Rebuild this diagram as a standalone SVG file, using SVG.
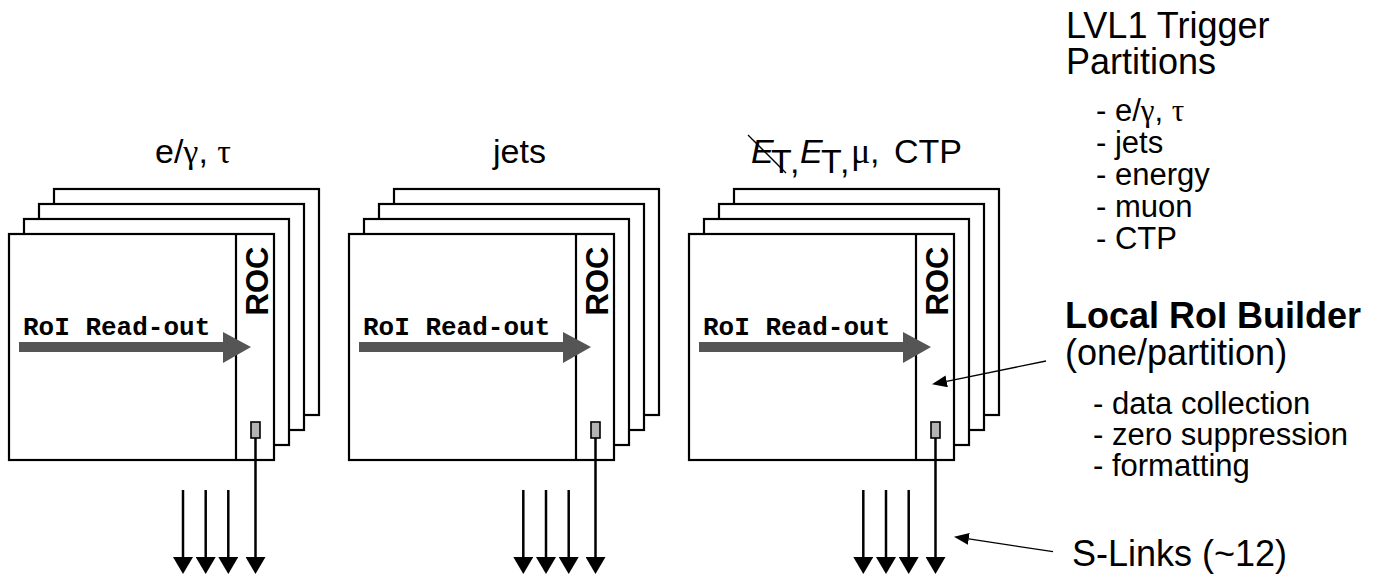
<svg xmlns="http://www.w3.org/2000/svg" width="1388" height="575" viewBox="0 0 1388 575">
<style>
.card{fill:#fff;stroke:#000;stroke-width:2.2}
.div{stroke:#000;stroke-width:2.2}
.roc{font-family:"Liberation Sans",Arial,sans-serif;font-weight:bold;font-size:31px;fill:#000}
.roi{font-family:"Liberation Mono","Courier New",monospace;font-weight:bold;font-size:26px;fill:#000}
.big{font-family:"Liberation Sans",Arial,sans-serif;font-size:34px;fill:#000}
.hd{font-family:"Liberation Sans",Arial,sans-serif;font-size:36px;fill:#000}
.lst{font-family:"Liberation Sans",Arial,sans-serif;font-size:31px;fill:#000}
.gr{font-family:"Liberation Serif","Times New Roman",serif}
.fat{fill:#555}
.chip{fill:#b4b4b4;stroke:#000;stroke-width:1.6}
.link{stroke:#000;stroke-width:2.5;fill:none}
.ptr{stroke:#000;stroke-width:1.3;fill:none}
</style>
<defs>
<marker id="down" markerUnits="userSpaceOnUse" markerWidth="17" markerHeight="20" viewBox="0 0 17 20" refX="0" refY="10" orient="auto">
<path d="M0,0 L17,10 L0,20 z" fill="#000"/>
</marker>
<marker id="small" markerUnits="userSpaceOnUse" markerWidth="15" markerHeight="12" viewBox="0 0 15 12" refX="0" refY="6" orient="auto">
<path d="M0,0 L15,6 L0,12 z" fill="#000"/>
</marker>
</defs>

<g id="partition-egamma">
<rect class="card" x="54" y="189" width="265" height="226"/>
<rect class="card" x="39" y="204" width="265" height="226"/>
<rect class="card" x="24" y="219" width="265" height="226"/>
<rect class="card" x="9" y="234" width="265" height="226"/>
<line class="div" x1="236" y1="234" x2="236" y2="460"/>
<text class="roc" transform="translate(268,281) rotate(-90)" text-anchor="middle">ROC</text>
<text class="roi" x="23" y="335">RoI Read-out</text>
<path class="fat" d="M19,342 L223,342 L223,332 L251,347 L223,363 L223,352 L19,352 z"/>
<rect class="chip" x="251" y="422" width="9" height="16"/>
<text class="big" x="155" y="163">e/<tspan class="gr">γ</tspan>, <tspan class="gr">τ</tspan></text>
</g>

<g id="partition-jets" transform="translate(340,0)">
<rect class="card" x="54" y="189" width="265" height="226"/>
<rect class="card" x="39" y="204" width="265" height="226"/>
<rect class="card" x="24" y="219" width="265" height="226"/>
<rect class="card" x="9" y="234" width="265" height="226"/>
<line class="div" x1="236" y1="234" x2="236" y2="460"/>
<text class="roc" transform="translate(268,281) rotate(-90)" text-anchor="middle">ROC</text>
<text class="roi" x="23" y="335">RoI Read-out</text>
<path class="fat" d="M19,342 L223,342 L223,332 L251,347 L223,363 L223,352 L19,352 z"/>
<rect class="chip" x="251" y="422" width="9" height="16"/>
<text class="big" x="153" y="163">jets</text>
</g>

<g id="partition-energy" transform="translate(680,0)">
<rect class="card" x="54" y="189" width="265" height="226"/>
<rect class="card" x="39" y="204" width="265" height="226"/>
<rect class="card" x="24" y="219" width="265" height="226"/>
<rect class="card" x="9" y="234" width="265" height="226"/>
<line class="div" x1="236" y1="234" x2="236" y2="460"/>
<text class="roc" transform="translate(268,281) rotate(-90)" text-anchor="middle">ROC</text>
<text class="roi" x="23" y="335">RoI Read-out</text>
<path class="fat" d="M19,342 L223,342 L223,332 L251,347 L223,363 L223,352 L19,352 z"/>
<rect class="chip" x="251" y="422" width="9" height="16"/>
</g>

<g id="title-energy">
<text class="big" y="163"><tspan x="751" font-style="italic">E</tspan><tspan x="771" dy="10">T</tspan><tspan x="790">,</tspan><tspan x="800" dy="-10" font-style="italic">E</tspan><tspan x="821" dy="10">T</tspan><tspan x="840">,</tspan><tspan x="851" dy="-10" class="gr" font-size="36">μ</tspan><tspan x="870">,</tspan><tspan x="894">CTP</tspan></text>
<line class="ptr" x1="748" y1="135" x2="786" y2="173"/>
</g>

<g id="connectors">
<line class="link" x1="183" y1="490" x2="183" y2="557" marker-end="url(#down)"/>
<line class="link" x1="205.7" y1="490" x2="205.7" y2="557" marker-end="url(#down)"/>
<line class="link" x1="228.3" y1="490" x2="228.3" y2="557" marker-end="url(#down)"/>
<line class="link" x1="255.5" y1="438" x2="255.5" y2="557" marker-end="url(#down)"/>
<line class="link" x1="523.3" y1="490" x2="523.3" y2="557" marker-end="url(#down)"/>
<line class="link" x1="546" y1="490" x2="546" y2="557" marker-end="url(#down)"/>
<line class="link" x1="568.7" y1="490" x2="568.7" y2="557" marker-end="url(#down)"/>
<line class="link" x1="595.5" y1="438" x2="595.5" y2="557" marker-end="url(#down)"/>
<line class="link" x1="863.3" y1="490" x2="863.3" y2="557" marker-end="url(#down)"/>
<line class="link" x1="886" y1="490" x2="886" y2="557" marker-end="url(#down)"/>
<line class="link" x1="908.7" y1="490" x2="908.7" y2="557" marker-end="url(#down)"/>
<line class="link" x1="935.5" y1="438" x2="935.5" y2="557" marker-end="url(#down)"/>
<line class="ptr" x1="1046" y1="361" x2="946.7" y2="381.3" marker-end="url(#small)"/>
<line class="ptr" x1="1053" y1="551.7" x2="968.8" y2="538.9" marker-end="url(#small)"/>
</g>

<g id="legend-partitions">
<text class="hd" x="1066" y="38">LVL1 Trigger</text>
<text class="hd" x="1066" y="74">Partitions</text>
<text class="lst" x="1096" y="121">- e/<tspan class="gr">γ</tspan>, <tspan class="gr">τ</tspan></text>
<text class="lst" x="1096" y="153">- jets</text>
<text class="lst" x="1096" y="185">- energy</text>
<text class="lst" x="1096" y="217">- muon</text>
<text class="lst" x="1096" y="249">- CTP</text>
</g>

<g id="local-roi-builder">
<text class="hd" x="1065" y="328" font-weight="bold">Local RoI Builder</text>
<text class="hd" x="1065" y="365">(one/partition)</text>
<text class="lst" x="1093" y="414">- data collection</text>
<text class="lst" x="1093" y="445">- zero suppression</text>
<text class="lst" x="1093" y="476">- formatting</text>
</g>

<g id="s-links">
<text class="hd" x="1072" y="566">S-Links (~12)</text>
</g>
</svg>
